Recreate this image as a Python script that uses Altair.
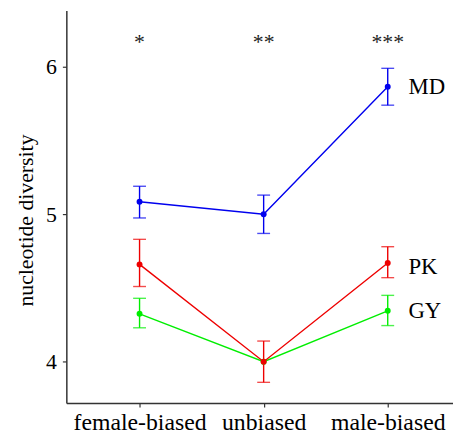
import altair as alt
import pandas as pd

categories = ["female-biased", "unbiased", "male-biased"]
series = ["GY", "PK", "MD"]
colors = ["#00ee00", "#ee0000", "#0000ee"]

means = {"GY": [4.325, 4.00, 4.345], "PK": [4.66, 4.00, 4.67], "MD": [5.085, 5.00, 5.865]}
lows = {"GY": [4.23, 4.00, 4.245], "PK": [4.51, 3.86, 4.57], "MD": [4.975, 4.87, 5.74]}
highs = {"GY": [4.43, 4.00, 4.45], "PK": [4.83, 4.14, 4.78], "MD": [5.19, 5.13, 5.99]}

stars = ["*", "**", "***"]
star_y = 6.12
label_y = {"MD": 5.816, "PK": 4.596, "GY": 4.294}
label_x = 2.167

rows = []
for s in series:
    for i, c in enumerate(categories):
        rows.append({"series": s, "xi": i, "cat": c, "mean": means[s][i],
                     "lo": lows[s][i], "hi": highs[s][i]})
df = pd.DataFrame(rows)
err_df = df[df["lo"] < df["hi"]]

star_df = pd.DataFrame({"xi": [0, 1, 2], "txt": stars, "y": [star_y] * 3})
lab_df = pd.DataFrame({"series": series, "xi": [label_x] * 3, "y": [label_y[s] for s in series]})

FONT = "Liberation Serif"
xscale = alt.Scale(domain=[-0.59, 2.526], nice=False, zero=False)
yscale = alt.Scale(domain=[3.72, 6.383], nice=False, zero=False)
cscale = alt.Scale(domain=series, range=colors)

x_axis = alt.Axis(
    values=[0, 1, 2], title=None, grid=False,
    labelExpr="datum.value == 0 ? 'female-biased' : datum.value == 1 ? 'unbiased' : 'male-biased'",
    tickSize=4, labelPadding=4, labelFont=FONT, labelFontSize=24, labelColor="black")
y_axis = alt.Axis(values=[4, 5, 6], format="d", title="nucleotide diversity", grid=False,
                  tickSize=4, labelPadding=6, labelFont=FONT, labelFontSize=22,
                  labelColor="black",
                  titleFont=FONT, titleFontSize=22,
                  titleFontWeight="normal", titleColor="black", titleAngle=-90,
                  titleX=-41, titleY=212, titleAlign="center", titleBaseline="middle")


def X():
    return alt.X("xi:Q", scale=xscale, axis=x_axis)


def Y(f):
    return alt.Y(f, scale=yscale, axis=y_axis)


base = alt.Chart(df)
color = alt.Color("series:N", scale=cscale, legend=None)

lines = base.mark_line(strokeWidth=1.4).encode(
    x=X(), y=Y("mean:Q"), color=color, detail="series:N")
ebase = alt.Chart(err_df)
rules = ebase.mark_rule(strokeWidth=1.4).encode(
    x=X(), y=Y("lo:Q"), y2="hi:Q", color=color)
tlo = ebase.mark_tick(orient="horizontal", size=13, thickness=1.4).encode(
    x=X(), y=Y("lo:Q"), color=color)
thi = ebase.mark_tick(orient="horizontal", size=13, thickness=1.4).encode(
    x=X(), y=Y("hi:Q"), color=color)
pts = base.mark_circle(size=36, opacity=1).encode(
    x=X(), y=Y("mean:Q"), color=color)

star_txt = alt.Chart(star_df).mark_text(font=FONT, fontSize=22, baseline="alphabetic",
                                        align="center", color="#222").encode(
    x=X(), y=Y("y:Q"), text="txt:N")
lab_txt = alt.Chart(lab_df).mark_text(font=FONT, fontSize=23, baseline="alphabetic",
                                      align="left", color="black").encode(
    x=X(), y=Y("y:Q"), text="series:N")

chart = alt.layer(lines, rules, tlo, thi, pts, star_txt, lab_txt).properties(
    width=391, height=397,
    padding={"left": 59, "top": 0, "right": 0, "bottom": 33},
    autosize=alt.AutoSizeParams(type="none"),
).configure_view(stroke=None).configure_axis(
    labelFont=FONT, labelColor="black",
    domainColor="#333", domainWidth=1.5, tickColor="#333", tickWidth=1.2,
)

chart.save("out.html", embed_options={"renderer": "svg", "actions": False})
